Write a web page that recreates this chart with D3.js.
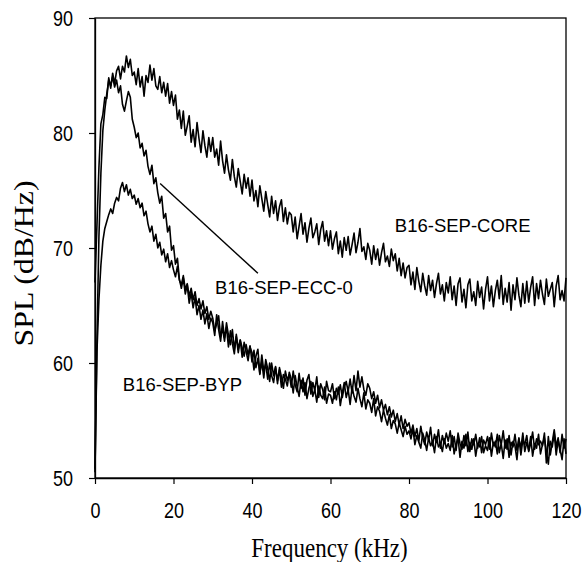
<!DOCTYPE html>
<html>
<head>
<meta charset="utf-8">
<script src="https://cdn.jsdelivr.net/npm/d3@7"></script>
<style>
  html, body { margin: 0; padding: 0; background: #fff; }
  svg { display: block; }
</style>
</head>
<body>
<div id="chart"></div>
<script>
const freqStepKHz = 0.5;

const coreSpl = [
  67, 72, 77, 80.8, 81.6, 83.1, 83.0, 84.8, 83.9, 85.2, 84.3, 85.4, 85.8, 84.7, 85.8, 85.3, 86.7, 85.7, 86.4, 85.0,
  85.3, 84.2, 85.6, 84.0, 84.9, 83.2, 85.0, 84.4, 85.9, 84.6, 85.6, 84.1, 83.8, 84.9, 83.5, 84.4, 83.2, 84.3, 82.6, 83.6,
  82.4, 83.3, 81.2, 82.0, 80.4, 81.9, 79.8, 80.6, 81.5, 79.2, 80.3, 78.8, 80.9, 79.5, 78.3, 80.2, 78.9, 77.9, 79.6, 78.4,
  79.6, 77.9, 78.6, 77.2, 79.3, 77.6, 76.5, 78.1, 76.8, 75.9, 77.7, 76.2, 75.3, 76.9, 75.8, 74.7, 76.4, 75.2, 76.1, 74.5,
  75.9, 74.1, 75.0, 73.6, 75.4, 74.3, 73.2, 74.9, 73.8, 72.7, 74.5, 73.0, 74.1, 72.4, 73.6, 74.2, 72.3, 73.5, 72.1, 73.1,
  72.9, 71.4, 72.7, 70.8, 71.9, 73.0, 71.2, 72.2, 70.5, 71.7, 72.6, 70.9, 71.4, 72.1, 70.3, 71.6, 72.3, 70.6, 71.5, 70.2,
  71.5, 69.9, 70.8, 71.4, 69.5, 70.6, 69.2, 70.9, 69.8, 71.0, 69.4, 70.3, 71.3, 69.6, 70.5, 71.7, 69.7, 70.1, 69.0, 70.4,
  69.8, 68.6, 70.2, 69.0, 69.9, 68.5, 69.6, 70.4, 68.8, 69.3, 68.4, 69.9, 68.9, 69.5, 68.0, 69.1, 67.6, 68.7, 67.4, 68.3,
  68.5, 66.8, 67.9, 66.4, 68.3, 67.1, 66.2, 67.8, 66.7, 65.9, 67.6, 66.3, 67.2, 65.7, 66.9, 67.8, 66.0, 66.8, 65.4, 67.0,
  66.1, 67.5, 65.5, 66.7, 65.0, 66.9, 67.4, 65.3, 66.4, 64.8, 66.8, 67.3, 65.4, 66.2, 65.0, 67.1, 65.7, 66.6, 64.7, 66.4,
  67.5, 65.4, 66.7, 64.9, 66.3, 67.2, 65.6, 67.6, 65.1, 66.5, 65.3, 67.0, 64.6, 66.8, 65.5, 67.4, 65.9, 64.9, 66.9, 65.2,
  67.1, 65.3, 66.6, 67.5, 65.0, 66.9, 65.6, 67.2, 66.0, 65.1, 67.3, 65.8, 66.4, 67.0, 64.9, 66.7, 67.6, 65.5, 66.3, 65.4,
  67.4
];

const eccSpl = [
  50.5, 62, 71, 76.5, 80.2, 82.0, 83.4, 84.6, 84.1, 84.9, 84.0, 84.6, 83.5, 84.1, 82.5, 81.9, 82.8, 83.6, 83.1, 81.2,
  80.5, 79.6, 80.0, 78.7, 79.1, 78.0, 78.5, 77.1, 76.4, 77.2, 75.6, 76.1, 74.8, 73.9, 74.5, 72.6, 73.0, 71.4, 71.9, 69.8,
  70.2, 68.6, 69.1, 67.3, 66.5, 67.4, 66.0, 66.8, 65.2, 66.1, 64.8, 65.7, 64.2, 65.0, 63.8, 64.6, 63.4, 64.3, 63.0, 63.9,
  63.5, 62.4, 64.2, 62.9, 61.9, 63.6, 62.2, 63.1, 61.4, 62.8, 61.7, 60.8, 62.5, 61.2, 62.0, 60.5, 61.8, 61.0, 60.2, 61.4,
  60.9, 59.4, 60.6, 61.2, 59.1, 60.1, 58.7, 60.3, 59.5, 58.4, 60.0, 58.9, 59.7, 58.2, 59.6, 58.8, 57.8, 59.3, 58.5, 59.0,
  57.9, 59.3, 58.1, 57.5, 59.1, 57.8, 58.7, 57.2, 58.5, 59.0, 57.3, 58.3, 57.6, 58.8, 57.0, 58.2, 57.7, 56.8, 58.4, 57.6,
  57.5, 58.2, 56.9, 57.8, 57.3, 58.1, 57.0, 57.9, 58.4, 57.5, 58.6, 57.4, 58.9, 57.6, 59.3, 57.9, 58.8, 57.7, 57.2, 58.2,
  57.8, 56.9, 57.5, 56.5, 57.2, 56.1, 56.8, 55.9, 56.4, 55.5, 56.2, 55.3, 55.9, 54.9, 55.6, 54.6, 55.4, 54.3, 55.1, 54.5,
  54.8, 53.9, 54.6, 53.6, 54.3, 53.2, 54.5, 53.5, 52.9, 54.0, 53.3, 54.4, 52.8, 53.8, 53.1, 54.2, 52.6, 53.7, 53.0, 53.9,
  53.2, 54.1, 52.7, 53.6, 52.4, 53.9, 53.0, 52.5, 53.7, 52.8, 54.0, 52.3, 53.4, 52.9, 53.8, 52.6, 53.5, 52.2, 53.3, 52.9,
  53.6, 52.5, 53.9, 52.8, 53.2, 52.1, 53.7, 52.9, 54.1, 52.6, 53.4, 51.8, 53.1, 52.7, 53.8, 52.4, 53.5, 52.0, 53.3, 52.9,
  53.7, 52.3, 53.0, 54.0, 52.5, 53.4, 52.9, 53.2, 52.8, 53.9, 51.3, 53.6, 52.0, 53.1, 54.2, 52.7, 53.5, 52.2, 53.8, 52.6,
  53.4
];

const bypSpl = [
  50.8, 61.0, 65.5, 68.5, 70.6, 71.7, 72.3, 72.9, 73.4, 73.0, 73.9, 74.4, 74.1, 75.2, 75.7, 74.9, 75.5, 74.6, 75.1, 74.3,
  74.6, 73.8, 74.3, 73.5, 73.9, 72.8, 73.2, 72.1, 71.4, 71.9, 70.6, 71.2, 70.0, 70.5, 69.4, 69.9, 68.8, 69.5, 68.3, 68.9,
  68.1, 67.5, 68.4, 67.2, 66.8, 67.6, 66.4, 66.9, 65.8, 66.5, 65.5, 66.2, 65.0, 65.6, 64.7, 65.4, 64.3, 64.9, 63.8, 64.5,
  63.9, 62.8, 63.4, 64.1, 62.3, 63.0, 61.9, 63.5, 62.4, 61.6, 62.9, 61.2, 62.3, 60.9, 62.0, 61.3, 60.6, 61.6, 60.7, 61.5,
  60.1, 61.1, 59.6, 60.4, 59.0, 60.7, 59.3, 59.9, 58.6, 60.0, 58.9, 58.3, 59.6, 58.5, 59.4, 57.9, 59.0, 58.6, 58.0, 59.2,
  58.6, 57.4, 58.9, 57.9, 57.1, 58.5, 57.5, 58.3, 56.9, 57.8, 58.4, 57.1, 57.7, 56.6, 58.0, 57.2, 56.9, 57.9, 56.5, 57.3,
  57.2, 56.5, 57.5, 56.8, 57.9, 56.3, 57.4, 58.3, 57.0, 57.7, 56.4, 57.9, 57.1, 56.6, 57.8, 56.9, 56.2, 57.4, 56.0, 56.8,
  56.5, 55.7, 56.9, 55.4, 56.2, 55.8, 54.9, 55.9, 55.2, 54.6, 55.5, 54.3, 55.0, 54.7, 53.9, 54.8, 54.2, 53.6, 54.5, 53.8,
  54.1, 53.4, 54.3, 52.9, 53.7, 53.1, 52.6, 53.9, 53.3, 52.4, 53.5, 52.8, 53.2, 52.2, 53.6, 52.7, 53.0, 52.3, 53.4, 52.6,
  53.0, 52.4, 53.7, 52.1, 52.9, 53.5, 51.8, 53.2, 52.6, 53.8, 52.3, 53.1, 52.5, 53.4, 51.9, 53.0, 52.7, 53.6, 52.2, 52.8,
  52.4, 53.5, 51.9, 53.1, 52.7, 53.8, 52.2, 53.0, 51.7, 53.3, 52.5, 53.7, 52.0, 53.2, 52.8, 51.6, 53.4, 52.6, 53.9, 52.3,
  53.1, 52.4, 53.6, 51.9, 53.0, 52.6, 53.8, 52.1, 52.9, 53.5, 52.3, 51.2, 53.2, 52.7, 53.9, 52.0, 53.3, 52.5, 51.6, 53.4,
  52.1
];

const xTicks = [0, 20, 40, 60, 80, 100, 120];
const yTicks = [50, 60, 70, 80, 90];

const labels = [
  { text: 'B16-SEP-CORE', f: 76.4, v: 71.4 },
  { text: 'B16-SEP-ECC-0', f: 30.6, v: 66.0 },
  { text: 'B16-SEP-BYP', f: 7.1, v: 57.6 }
];
// leader line from the ECC-0 curve to its label
const leader = [[16.6, 75.6], [41.5, 67.8]];

const width = 587, height = 562;
const margin = { top: 18, right: 21, bottom: 84, left: 95 };

const x = d3.scaleLinear().domain([0, 120]).range([margin.left, width - margin.right]);
const y = d3.scaleLinear().domain([50, 90]).range([height - margin.bottom, margin.top]);

const svg = d3.select('#chart').append('svg')
  .attr('width', width)
  .attr('height', height);

const sans = '"Liberation Sans", Arial, Helvetica, sans-serif';
const serif = '"Liberation Serif", "Times New Roman", Times, serif';

// frame (top + right)
svg.append('rect')
  .attr('x', x(0)).attr('y', y(90))
  .attr('width', x(120) - x(0)).attr('height', y(50) - y(90))
  .attr('fill', 'none').attr('stroke', '#000').attr('stroke-width', 1.3);

// curves
const line = d3.line()
  .x((d, i) => x(i * freqStepKHz))
  .y(d => y(d));

[bypSpl, eccSpl, coreSpl].forEach(s => {
  svg.append('path')
    .datum(s)
    .attr('d', line)
    .attr('fill', 'none')
    .attr('stroke', '#000')
    .attr('stroke-width', 1.6)
    .attr('stroke-linejoin', 'round');
});

// axes
const xAxis = svg.append('g')
  .attr('transform', `translate(0,${y(50)})`)
  .call(d3.axisBottom(x).tickValues(xTicks).tickSize(6).tickSizeOuter(0));
xAxis.selectAll('text')
  .attr('y', 0).attr('dy', 0)
  .attr('transform', 'translate(0,40) scale(1,1.18)')
  .style('font-family', sans).style('font-size', '18px').attr('fill', '#000');

const yAxis = svg.append('g')
  .attr('transform', `translate(${x(0)},0)`)
  .call(d3.axisLeft(y).tickValues(yTicks).tickSize(6).tickSizeOuter(0));
yAxis.selectAll('text')
  .attr('x', 0).attr('dy', 0)
  .attr('transform', 'translate(-22,7.6) scale(1,1.18)')
  .style('font-family', sans).style('font-size', '18px').attr('fill', '#000');

svg.selectAll('.domain').attr('stroke', '#000').attr('stroke-width', 1.3);
svg.selectAll('.tick line').attr('stroke', '#000').attr('stroke-width', 1.2);

// axis titles
svg.append('text')
  .attr('transform', `translate(${x(60) - 1},557) scale(1,1.18)`)
  .attr('text-anchor', 'middle')
  .style('font-family', serif).style('font-size', '23px')
  .text('Frequency (kHz)');

svg.append('text')
  .attr('transform', 'translate(33,263.5) rotate(-90) scale(1.18,1)')
  .attr('text-anchor', 'middle')
  .style('font-family', serif).style('font-size', '27px')
  .text('SPL (dB/Hz)');

// curve labels
svg.append('line')
  .attr('x1', x(leader[0][0])).attr('y1', y(leader[0][1]))
  .attr('x2', x(leader[1][0])).attr('y2', y(leader[1][1]))
  .attr('stroke', '#000').attr('stroke-width', 1.4);

svg.selectAll('.curve-label')
  .data(labels)
  .enter().append('text')
  .attr('class', 'curve-label')
  .attr('x', d => x(d.f))
  .attr('y', d => y(d.v))
  .style('font-family', sans).style('font-size', '18.5px')
  .text(d => d.text);
</script>
</body>
</html>
